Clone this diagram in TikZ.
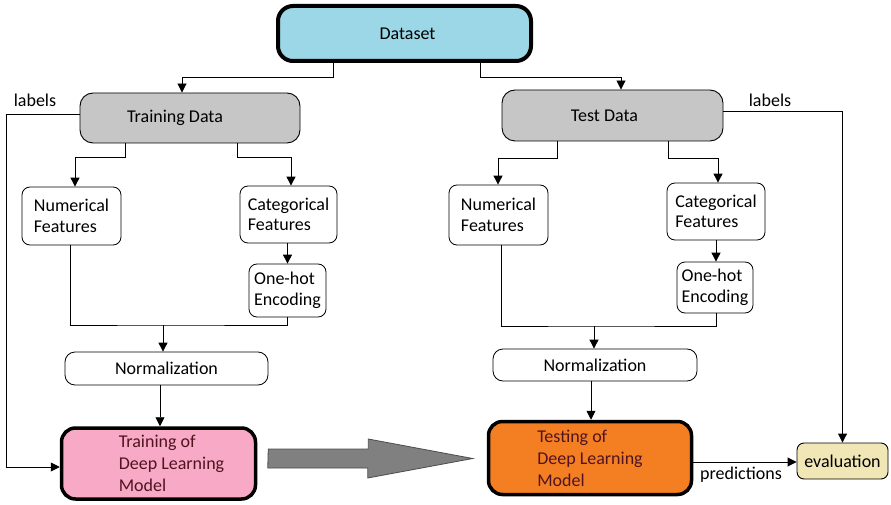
\documentclass[tikz,border=0pt]{standalone}
\usepackage{fontspec}
\setmainfont{Carlito}
\usetikzlibrary{arrows.meta,calc}
\definecolor{dsblue}{HTML}{9BD7E6}
\definecolor{datagray}{HTML}{C6C6C6}
\definecolor{trainpink}{HTML}{F7A9C6}
\definecolor{testorange}{HTML}{F47F22}
\definecolor{evaltan}{HTML}{F1E6B6}
\definecolor{modeltext}{HTML}{501420}
\definecolor{flowgray}{HTML}{808080}
\tikzset{
  every node/.style={font=\fontsize{18}{20.5}\selectfont},
  databox/.style={draw=black, line width=0.9pt, rounded corners=13pt, fill=datagray, inner sep=0pt},
  featbox/.style={draw=black, line width=0.8pt, rounded corners=8pt, fill=white, align=left, inner sep=1pt},
  normbox/.style={draw=black, line width=0.8pt, rounded corners=10pt, fill=white, inner sep=0pt},
  modelbox/.style={draw=black, line width=3.5pt, rounded corners=14pt, align=left, text=modeltext, inner sep=0pt,
    font=\fontsize{18}{22}\selectfont},
  arr/.style={draw=black, line width=0.9pt, -{Triangle[length=9pt,width=9pt]}},
  link/.style={draw=black, line width=0.9pt},
  lbl/.style={inner sep=0pt}
}
\begin{document}
\begin{tikzpicture}[x=1pt,y=-1pt]
\useasboundingbox (0,0) rectangle (891,505);

% source data
\node[draw=black, line width=4pt, rounded corners=15pt, fill=dsblue, minimum width=253pt, minimum height=55pt, inner sep=0pt] (dataset) at (404.5,33.5) {\rule{6pt}{0pt}Dataset};
\node[databox, minimum width=220pt, minimum height=50pt] (train) at (190,118) {Training Data\rule{30pt}{0pt}};
\node[databox, minimum width=221pt, minimum height=51pt] (test) at (612.5,115.5) {Test Data\rule{16pt}{0pt}};

% training branch
\node[featbox, minimum width=99pt, minimum height=58pt] (numL) at (71.5,216) {Numerical\\Features};
\node[featbox, minimum width=97pt, minimum height=57pt] (catL) at (288.5,214.5) {Categorical\\Features};
\node[featbox, minimum width=77pt, minimum height=53pt, inner sep=0pt] (ohL) at (287.5,290.5) {One-hot\\Encoding};
\node[normbox, minimum width=203pt, minimum height=33pt] (normL) at (166.5,368.5) {Normalization};
\node[modelbox, fill=trainpink, minimum width=194pt, minimum height=71pt] (trainM) at (158.5,463.5)
  {\rule{26pt}{0pt}Training of\\\rule{26pt}{0pt}Deep Learning\\\rule{26pt}{0pt}Model};

% testing branch
\node[featbox, minimum width=99pt, minimum height=60pt] (numR) at (498.5,215) {Numerical\\Features};
\node[featbox, minimum width=98pt, minimum height=57pt] (catR) at (716,211.5) {Categorical\\Features};
\node[featbox, minimum width=76pt, minimum height=51pt, inner sep=0pt] (ohR) at (715,287.5) {One-hot\\Encoding};
\node[normbox, minimum width=204pt, minimum height=32pt] (normR) at (595,365) {Normalization};
\node[modelbox, fill=testorange, minimum width=203pt, minimum height=73pt] (testM) at (590,458)
  {Testing of\\Deep Learning\\Model};
\node[draw=black, line width=0.9pt, rounded corners=7pt, fill=evaltan, minimum width=91pt, minimum height=36pt, inner sep=0pt] (eval) at (842.5,461) {evaluation};

% split of the dataset
\draw[arr] ([xshift=-71.5pt]dataset.south) -- ++(0,14) -| ([xshift=-8pt]train.north);
\draw[arr] ([xshift=75.5pt]dataset.south) -- ++(0,14) -| ([xshift=8.5pt]test.north);

% labels paths
\node[lbl] (labL) at (35,100) {labels};
\draw[arr] ([yshift=4pt]train.west) -- ++(-73,0) |- ([yshift=-3.5pt]trainM.west);
\node[lbl] (labR) at (770,100) {labels};
\draw[arr] ([yshift=4pt]test.east) -| (eval.north);

% training preprocessing
\draw[arr] ([xshift=-65pt]train.south) -- ++(0,14) -| ([xshift=3.5pt]numL.north);
\draw[arr] ([xshift=47pt]train.south) -- ++(0,14) -| ([xshift=2.5pt]catL.north);
\draw[arr] ([xshift=-1pt]catL.south) -- (ohL.north);
\coordinate (mL) at (163,325);
\draw[link] ([xshift=-1.5pt]numL.south) |- (mL) -| (ohL.south);
\draw[arr] (mL) -- (mL |- normL.north);
\draw[arr] ([xshift=-6.5pt]normL.south) -- ([xshift=1.5pt]trainM.north);

% testing preprocessing
\draw[arr] ([xshift=-55.5pt]test.south) -- ++(0,17) -| ([xshift=-0.5pt]numR.north);
\draw[arr] ([xshift=55.5pt]test.south) -- ++(0,17) -| ([xshift=2pt]catR.north);
\draw[arr] (catR.south) -- ([xshift=1pt]ohR.north);
\coordinate (mR) at (594,326);
\draw[link] ([xshift=2.5pt]numR.south) |- (mR) -| ([xshift=1pt]ohR.south);
\draw[arr] (mR) -- (mR |- normR.north);
\draw[arr] ([xshift=-4pt]normR.south) -- ([xshift=1pt]testM.north);

% predictions
\draw[arr] ([yshift=-4pt]testM.east) -- ([yshift=-1pt]eval.west);
\node[lbl] (pred) at (741,475) {predictions};

% trained model handed over to testing
\draw[draw=black!70, line width=0.8pt, fill=flowgray]
  ([xshift=11pt,yshift=14.5pt]trainM.east) -- ++(100,0) -- ++(0,-10) -- ([xshift=-14pt,yshift=-0.5pt]testM.west)
  -- ++(-105,19.5) -- ++(0,-10) -- ++(-100,0) -- cycle;
\end{tikzpicture}
\end{document}
